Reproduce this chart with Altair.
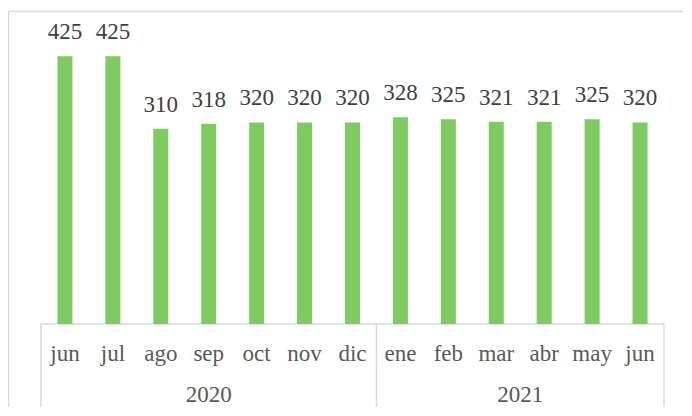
import altair as alt
import pandas as pd

months = ["jun", "jul", "ago", "sep", "oct", "nov", "dic", "ene", "feb", "mar", "abr", "may", "jun"]
years = ["2020", "2020", "2020", "2020", "2020", "2020", "2020",
         "2021", "2021", "2021", "2021", "2021", "2021"]
values = [425, 425, 310, 318, 320, 320, 320, 328, 325, 321, 321, 325, 320]

n = len(months)
df = pd.DataFrame({"idx": list(range(n)), "month": months, "year": years, "value": values})

# helper tables derived from the arrays above (group centres and boundaries in category-index units)
groups = []
for y in dict.fromkeys(years):
    ids = [i for i, v in enumerate(years) if v == y]
    groups.append({"year": y, "center": sum(ids) / len(ids), "lo": min(ids) - 0.5, "hi": max(ids) + 0.5})
gdf = pd.DataFrame(groups)
edges = sorted(set(list(gdf["lo"]) + list(gdf["hi"])))
edf = pd.DataFrame({"edge": edges})
bdf = pd.DataFrame({"a": [-0.5], "b": [n - 0.5]})

FONT = "'Liberation Serif', 'Times New Roman', 'DejaVu Serif', serif"
GRID = "#d9d9d9"
W, H = 633, 315
xscale = alt.Scale(domain=[-0.5, n - 0.5], nice=False, zero=False)
yscale = alt.Scale(domain=[0, 500], nice=False)


def X(f):
    return alt.X(f, scale=xscale, axis=None)


def Y(f):
    return alt.Y(f, scale=yscale, axis=None)


base = alt.Chart(df)

bars = base.mark_bar(size=15, color="#7dcb61").encode(x=X("idx:Q"), y=Y("value:Q"))

value_labels = base.mark_text(dy=-17, baseline="alphabetic", font=FONT, fontSize=23, color="#404040").encode(
    x=X("idx:Q"), y=Y("value:Q"), text="value:Q"
)

month_labels = base.mark_text(dy=37, baseline="alphabetic", font=FONT, fontSize=23, color="#595959").encode(
    x=X("idx:Q"), y=alt.value(H), text="month:N"
)

year_labels = alt.Chart(gdf).mark_text(dy=78, baseline="alphabetic", font=FONT, fontSize=23, color="#595959").encode(
    x=X("center:Q"), y=alt.value(H), text="year:N"
)

separators = alt.Chart(edf).mark_rule(color=GRID, strokeWidth=1.5).encode(
    x=X("edge:Q"), y=alt.value(H), y2=alt.value(399)
)

baseline = alt.Chart(bdf).mark_rule(color=GRID, strokeWidth=1.5).encode(
    x=X("a:Q"), x2="b:Q", y=alt.value(H)
)

one = alt.Chart(pd.DataFrame({"k": [0]}))
border_top = one.mark_rule(color=GRID, strokeWidth=1.5).encode(
    x=alt.value(-27.5), x2=alt.value(700), y=alt.value(2.5)
)
border_left = one.mark_rule(color=GRID, strokeWidth=1.5).encode(
    x=alt.value(-27.5), y=alt.value(2.5), y2=alt.value(500)
)

chart = alt.layer(
    border_top, border_left, separators, baseline, bars, value_labels, month_labels, year_labels
).properties(
    width=W, height=H,
    autosize=alt.AutoSizeParams(type="none"),
    padding={"left": 28, "top": 1, "right": 14, "bottom": 83},
    background="white",
).configure_view(stroke=None)

chart.save("out.html", embed_options={"renderer": "svg", "actions": False})
